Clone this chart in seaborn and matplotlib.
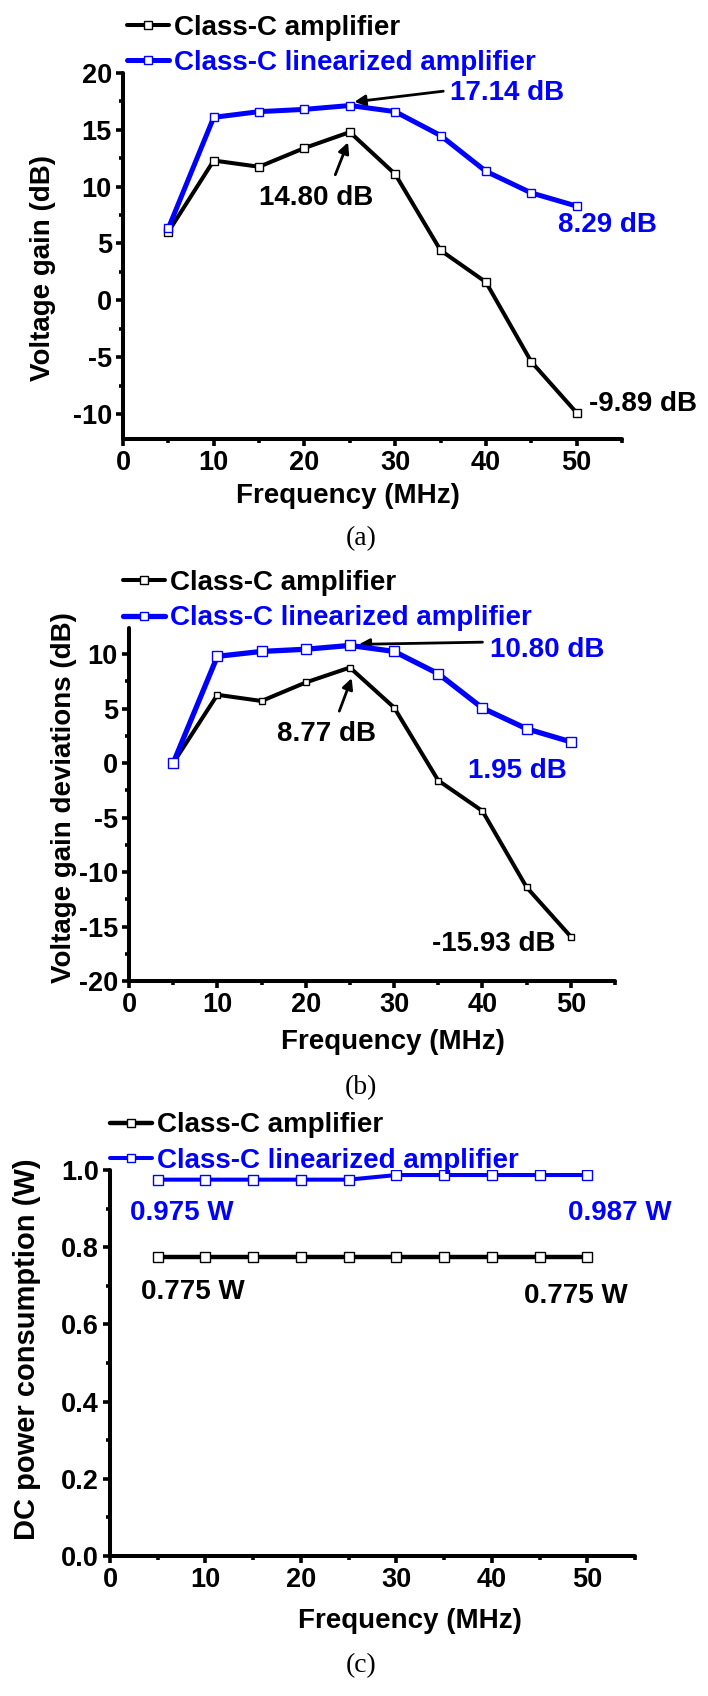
import matplotlib
matplotlib.use("Agg")
import matplotlib.pyplot as plt
import seaborn as sns
import numpy as np
import pandas as pd
from matplotlib.ticker import MultipleLocator, FormatStrFormatter

# ---------------- data ----------------
freq = [5, 10, 15, 20, 25, 30, 35, 40, 45, 50]
gain_classC = [6.03, 12.3, 11.75, 13.4, 14.80, 11.1, 4.4, 1.6, -5.4, -9.89]
gain_linear = [6.34, 16.1, 16.6, 16.8, 17.14, 16.6, 14.5, 11.35, 9.45, 8.29]
dev_classC = [0.0, 6.27, 5.7, 7.4, 8.77, 5.1, -1.6, -4.4, -11.4, -15.93]
dev_linear = [0.0, 9.8, 10.25, 10.45, 10.80, 10.25, 8.2, 5.05, 3.15, 1.95]
dc_classC = [0.775, 0.775, 0.775, 0.775, 0.775, 0.775, 0.775, 0.775, 0.775, 0.775]
dc_linear = [0.975, 0.975, 0.975, 0.975, 0.975, 0.987, 0.987, 0.987, 0.987, 0.987]
series_labels = ["Class-C amplifier", "Class-C linearized amplifier"]
x_label = "Frequency (MHz)"
y_labels = ["Voltage gain (dB)", "Voltage gain deviations (dB)", "DC power consumption (W)"]
captions = ["(a)", "(b)", "(c)"]

BLACK = "#000000"
BLUE = "#0000FF"

sns.set_style("ticks")
plt.rcParams["font.family"] = ["Liberation Sans", "DejaVu Sans"]
plt.rcParams["font.weight"] = "bold"
plt.rcParams["axes.labelweight"] = "bold"
plt.rcParams["axes.unicode_minus"] = False
for k in ["axes.edgecolor", "xtick.color", "ytick.color", "text.color", "axes.labelcolor"]:
    plt.rcParams[k] = "black"

W, H = 708, 1696
fig = plt.figure(figsize=(W / 100, H / 100), dpi=100)


def ax_px(l, t, r, b):
    return fig.add_axes([l / W, 1 - b / H, (r - l) / W, (b - t) / H])


def style_axes(ax, xlim, ylim, ymaj, ymin):
    ax.set_xlim(*xlim)
    ax.set_ylim(*ylim)
    for s in ["top", "right"]:
        ax.spines[s].set_visible(False)
    for s in ["left", "bottom"]:
        ax.spines[s].set_linewidth(2.9)
        ax.spines[s].set_color("black")
        ax.spines[s].set_capstyle("round")
    ax.xaxis.set_major_locator(MultipleLocator(10))
    ax.xaxis.set_minor_locator(MultipleLocator(5))
    ax.yaxis.set_major_locator(MultipleLocator(ymaj))
    ax.yaxis.set_minor_locator(MultipleLocator(ymin))
    ax.tick_params(which="major", direction="out", length=5, width=2.6, labelsize=19.5, pad=3.0,
                   color="black", labelcolor="black")
    ax.tick_params(which="minor", direction="out", length=3.2, width=2.6, color="black")
    for lab in ax.get_xticklabels() + ax.get_yticklabels():
        lab.set_fontweight("bold")
    ax.set_facecolor("white")


def plot_pair(ax, y1, y2, lw1, lw2, ms1, ms2):
    sns.lineplot(x=freq, y=y1, ax=ax, color=BLACK, lw=lw1, marker="s", ms=ms1,
                 mfc="white", mec=BLACK, mew=1.0, zorder=3)
    sns.lineplot(x=freq, y=y2, ax=ax, color=BLUE, lw=lw2, marker="s", ms=ms2,
                 mfc="white", mec=BLUE, mew=1.0, zorder=4)
    return ax.get_lines()[-2:]


def add_legend(ax, lines, x_px, y_px):
    leg = ax.legend(lines, series_labels, loc="center left",
                    bbox_to_anchor=(x_px / W, 1 - y_px / H), bbox_transform=fig.transFigure,
                    frameon=False, borderpad=0, borderaxespad=0, handlelength=1.5,
                    handletextpad=0.2, labelspacing=0.34, numpoints=1,
                    prop={"size": 20, "weight": "bold"})
    for t, c in zip(leg.get_texts(), [BLACK, BLUE]):
        t.set_color(c)
    for h in leg.legend_handles:
        h.set_markersize(5.5)
    return leg


def set_labels(ax, ylab, yfs, ylx, yly, xlx, xly):
    ax.set_xlabel(x_label, fontsize=20, fontweight="bold")
    ax.set_ylabel(ylab, fontsize=yfs, fontweight="bold")
    ax.xaxis.label.set_va("center")
    ax.yaxis.label.set_va("center")
    ax.xaxis.set_label_coords(xlx, xly)
    ax.yaxis.set_label_coords(ylx, yly)


arrow_kw = dict(arrowstyle="-|>", color=BLACK, lw=2.0, mutation_scale=16, shrinkA=0, shrinkB=0)
tk = dict(fontsize=20, fontweight="bold", va="center")

# ---------------- panel (a) ----------------
ax1 = ax_px(123, 73, 622, 439)
l1 = plot_pair(ax1, gain_classC, gain_linear, 2.9, 3.6, 5.2, 5.2)
style_axes(ax1, (0, 55), (-12.2, 20), 5, 2.5)
add_legend(ax1, l1, 127, 45.5)
set_labels(ax1, y_labels[0], 20, -0.16, 0.467, 0.45, -0.156)
ax1.text(36.0, 18.2, "17.14 dB", color=BLUE, ha="left", **tk)
ax1.annotate("", xy=(25.5, 17.46), xytext=(35.3, 18.4), arrowprops=arrow_kw)
ax1.text(21.3, 9.0, "14.80 dB", color=BLACK, ha="center", **tk)
ax1.annotate("", xy=(24.8, 13.9), xytext=(23.4, 11.05), arrowprops=arrow_kw)
ax1.text(47.9, 6.6, "8.29 dB", color=BLUE, ha="left", **tk)
ax1.text(51.4, -9.1, "-9.89 dB", color=BLACK, ha="left", **tk)

# ---------------- panel (b) ----------------
ax2 = ax_px(129, 628, 615, 981)
l2 = plot_pair(ax2, dev_classC, dev_linear, 2.9, 3.8, 5.0, 6.5)
style_axes(ax2, (0, 55), (-20, 12.4), 5, 2.5)
add_legend(ax2, l2, 123, 600.5)
set_labels(ax2, y_labels[1], 20, -0.134, 0.52, 0.543, -0.173)
ax2.text(40.8, 10.4, "10.80 dB", color=BLUE, ha="left", **tk)
ax2.annotate("", xy=(26.0, 10.9), xytext=(40.0, 11.1), arrowprops=arrow_kw)
ax2.text(22.4, 2.66, "8.77 dB", color=BLACK, ha="center", **tk)
ax2.annotate("", xy=(25.2, 7.8), xytext=(23.8, 4.77), arrowprops=arrow_kw)
ax2.text(38.4, -0.73, "1.95 dB", color=BLUE, ha="left", **tk)
ax2.text(34.3, -16.6, "-15.93 dB", color=BLACK, ha="left", **tk)

# ---------------- panel (c) ----------------
ax3 = ax_px(110, 1170, 635, 1556)
l3 = plot_pair(ax3, dc_classC, dc_linear, 3.2, 2.9, 7.2, 7.2)
style_axes(ax3, (0, 55), (0, 1.0), 0.2, 0.1)
ax3.yaxis.set_major_formatter(FormatStrFormatter("%.1f"))
add_legend(ax3, l3, 110, 1143)
set_labels(ax3, y_labels[2], 21, -0.158, 0.536, 0.571, -0.168)
ax3.text(2.1, 0.888, "0.975 W", color=BLUE, ha="left", **tk)
ax3.text(48.0, 0.888, "0.987 W", color=BLUE, ha="left", **tk)
ax3.text(3.2, 0.684, "0.775 W", color=BLACK, ha="left", **tk)
ax3.text(43.4, 0.674, "0.775 W", color=BLACK, ha="left", **tk)

# ---------------- captions ----------------
for cap, ypx in zip(captions, [539, 1088, 1666]):
    fig.text(361 / W, 1 - ypx / H, cap, ha="center", va="center", color="black",
             family=["Liberation Serif", "DejaVu Serif"], fontsize=20, fontweight="normal")

fig.savefig("out.png", dpi=100, facecolor="white")
